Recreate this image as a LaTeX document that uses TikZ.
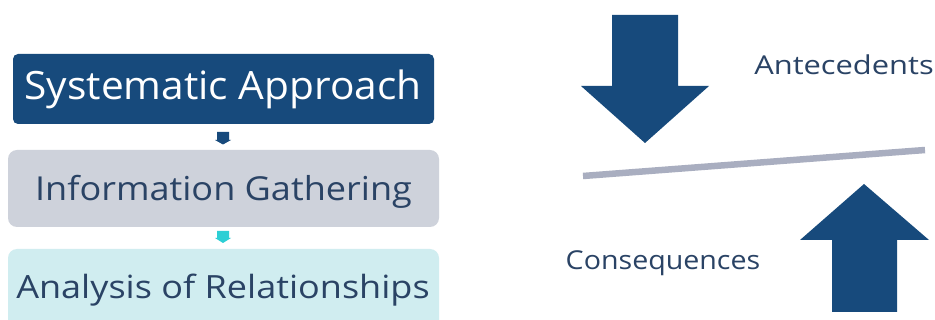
\documentclass[tikz,border=0pt]{standalone}
\usepackage{fontspec}
\setmainfont{Open Sans}
\usetikzlibrary{calc}
\definecolor{navy}{HTML}{174A7C}
\definecolor{inkblue}{HTML}{2A4365}
\definecolor{greybox}{HTML}{CED2DB}
\definecolor{palecyan}{HTML}{D0EDF0}
\definecolor{brightcyan}{HTML}{2CCFD5}
\definecolor{beam}{HTML}{A9AEC0}
\tikzset{
  x=1pt,y=-1pt,
  box/.style={rounded corners=5pt,inner sep=0pt,outer sep=0pt,anchor=north west},
  words/.style={inner sep=0pt,anchor=base,text=inkblue,transform shape}
}
\begin{document}
\begin{tikzpicture}
\clip (0,0) rectangle (935,320);
\fill[white] (0,0) rectangle (935,320);
\node[box,fill=navy,minimum width=421pt,minimum height=70pt] (sys) at (13,54) {};
\node[box,fill=greybox,minimum width=431pt,minimum height=77pt,rounded corners=9pt] (info) at (8,150) {};
\node[box,fill=palecyan,minimum width=431pt,minimum height=90pt,rounded corners=9pt] (ana) at (8,249) {};
\node[words,text=white,font=\fontsize{39}{44}\selectfont,xscale=1.042] (t1) at (223,99.5) {Systematic Approach};
\node[words,font=\fontsize{33}{38}\selectfont,xscale=1.093] (t2) at (223.5,200.5) {Information Gathering};
\node[words,font=\fontsize{32}{38}\selectfont,xscale=1.126] (t3) at (223,298.5) {Analysis of Relationships};
% small block arrows between boxes
\fill[navy] ($(sys.south)+(-6.5,8)$) -- ++(12,0) -- ++(0,8) -- ++(2,0) -- ($(info.north)+(-0.5,-5.5)$) -- ($(sys.south)+(-8.5,16)$) -- ++(2,0) -- cycle;
\fill[brightcyan] ($(info.south)+(-6.5,4)$) -- ++(12,0) -- ++(0,7) -- ++(2,0) -- ($(ana.north)+(-0.5,-6)$) -- ($(info.south)+(-8.5,11)$) -- ++(2,0) -- cycle;
% balance
\coordinate (beamL) at (583,176);
\coordinate (beamR) at (925,150);
\draw[beam,line width=6.5pt] (beamL) -- (beamR);
\fill[navy] (612,15) -- (678,15) -- (678,86) -- (709,86) -- (645,143) -- (581,86) -- (612,86) -- cycle;
\fill[navy] (832,312) -- (897,312) -- (897,240) -- (929,240) -- (864,184) -- (800,240) -- (832,240) -- cycle;
\node[words,font=\fontsize{26}{30}\selectfont,xscale=1.187] (ante) at (844,75) {Antecedents};
\node[words,font=\fontsize{26}{30}\selectfont,xscale=1.10] (cons) at (663,270) {Consequences};
\end{tikzpicture}
\end{document}
